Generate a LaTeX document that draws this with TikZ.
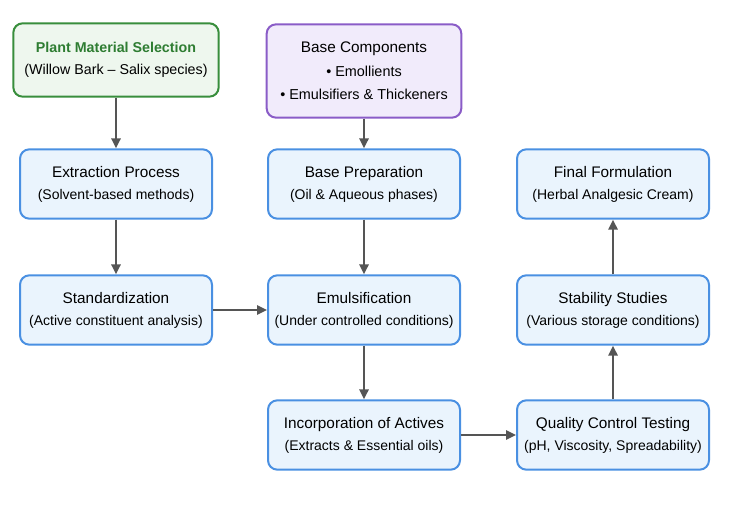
\documentclass[tikz,border=0pt]{standalone}
\usepackage{fontspec}
\setmainfont{Liberation Sans}
\usepackage{xcolor}
\definecolor{stepblue}{RGB}{74,144,226}
\definecolor{stepbluefill}{RGB}{234,244,253}
\definecolor{plantgreen}{RGB}{56,142,60}
\definecolor{planttext}{RGB}{46,125,50}
\definecolor{plantgreenfill}{RGB}{238,247,238}
\definecolor{basepurple}{RGB}{138,92,199}
\definecolor{basepurplefill}{RGB}{241,235,251}
\definecolor{arrowgray}{RGB}{85,85,85}
\newcommand{\steptitle}[1]{{\fontsize{11.5}{16.5}\selectfont #1}}
\usetikzlibrary{arrows.meta,positioning}

\begin{document}
\begin{tikzpicture}[x=0.75pt,y=-0.75pt,font=\fontsize{10.5}{16.5}\selectfont,
  stepbox/.style={draw=stepblue,fill=stepbluefill,line width=1.5pt,rounded corners=7pt,
    minimum width=144pt,minimum height=52pt,align=center,inner sep=0pt},
  flow/.style={-{Triangle[length=7.5pt,width=7pt]},arrowgray,line width=1.5pt}]
  \useasboundingbox (0,0) rectangle (746,520);
  % top row sources
  \node[stepbox,draw=plantgreen,fill=plantgreenfill,minimum width=154pt,minimum height=55pt,
    font=\fontsize{10.7}{16.5}\selectfont] (plant) at (116,60)
    {\textcolor{planttext}{\textbf{Plant Material Selection}}\\(Willow Bark -- Salix species)};
  \node[stepbox,draw=basepurple,fill=basepurplefill,minimum width=146pt,minimum height=70pt,
    font=\fontsize{10.8}{17.5}\selectfont] (base) at (364,71)
    {\steptitle{Base Components}\\• Emollients\\• Emulsifiers \& Thickeners};
  % process steps
  \node[stepbox] (extract) at (116,184) {\steptitle{Extraction Process}\\(Solvent-based methods)};
  \node[stepbox] (prep) at (364,184) {\steptitle{Base Preparation}\\(Oil \& Aqueous phases)};
  \node[stepbox] (final) at (613,184) {\steptitle{Final Formulation}\\(Herbal Analgesic Cream)};
  \node[stepbox] (std) at (116,310) {\steptitle{Standardization}\\(Active constituent analysis)};
  \node[stepbox] (emul) at (364,310) {\steptitle{Emulsification}\\(Under controlled conditions)};
  \node[stepbox] (stab) at (613,310) {\steptitle{Stability Studies}\\(Various storage conditions)};
  \node[stepbox] (incorp) at (364,435) {\steptitle{Incorporation of Actives}\\(Extracts \& Essential oils)};
  \node[stepbox] (qc) at (613,435) {\steptitle{Quality Control Testing}\\(pH, Viscosity, Spreadability)};
  % arrows
  \draw[flow] (plant) -- (extract);
  \draw[flow] (extract) -- (std);
  \draw[flow] (base) -- (prep);
  \draw[flow] (prep) -- (emul);
  \draw[flow] (std) -- (emul);
  \draw[flow] (emul) -- (incorp);
  \draw[flow] (incorp) -- (qc);
  \draw[flow] (qc) -- (stab);
  \draw[flow] (stab) -- (final);
\end{tikzpicture}
\end{document}
